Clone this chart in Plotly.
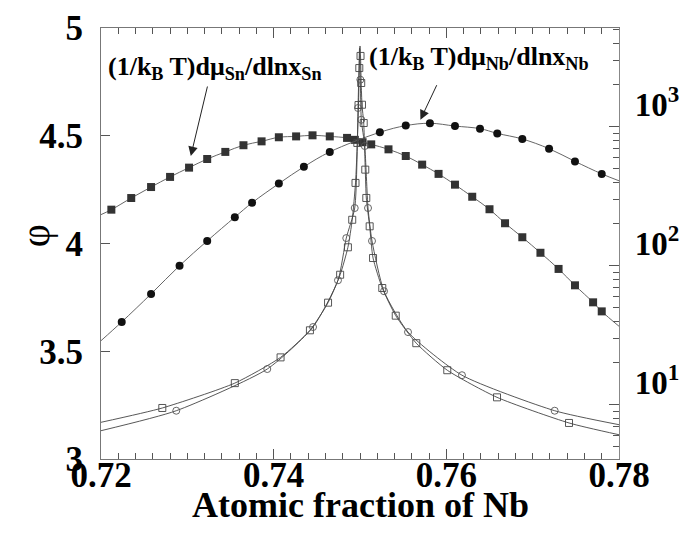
import plotly.graph_objects as go

# Atomic fraction of Nb / values

# filled squares: phi for Sn (left axis)
sn_x = [0.7212, 0.7235, 0.7258, 0.7280, 0.7302, 0.7323, 0.7344, 0.7365, 0.7386, 0.7406,
        0.7426, 0.7445, 0.7465, 0.7485, 0.7494, 0.7503, 0.7513, 0.7533, 0.7553, 0.7572,
        0.7591, 0.7610, 0.7630, 0.7650, 0.7668, 0.7688, 0.7709, 0.7730, 0.7749, 0.7770, 0.7780]
sn_phi = [4.157, 4.211, 4.262, 4.309, 4.352, 4.392, 4.425, 4.456, 4.474, 4.493,
          4.497, 4.502, 4.497, 4.490, 4.481, 4.470, 4.460, 4.437, 4.406, 4.366,
          4.323, 4.273, 4.217, 4.159, 4.094, 4.029, 3.957, 3.882, 3.806, 3.727, 3.685]
sn_phi_ends = [4.134, 3.616]   # curve at x = 0.72 and x = 0.78

# filled circles: phi for Nb (left axis)
nb_x = [0.7224, 0.7258, 0.7291, 0.7323, 0.7355, 0.7375, 0.7406, 0.7435, 0.7465, 0.7523,
        0.7553, 0.7581, 0.7610, 0.7639, 0.7659, 0.7688, 0.7719, 0.7749, 0.7780]
nb_phi = [3.636, 3.766, 3.897, 4.012, 4.122, 4.189, 4.278, 4.356, 4.425, 4.516,
          4.547, 4.558, 4.545, 4.533, 4.511, 4.485, 4.440, 4.381, 4.323]
nb_phi_ends = [3.549, 4.291]

# open squares: (1/kBT) dmu_Sn / dln x_Sn (right log axis)
tf_sn_x = [0.7271, 0.7355, 0.7408, 0.7442, 0.7463, 0.7477, 0.7486, 0.7491, 0.74948, 0.74969,
           0.74983, 0.74992, 0.75006, 0.75014, 0.75023, 0.75043, 0.75061, 0.75073, 0.75112, 0.75151,
           0.75258, 0.75414, 0.75652, 0.76011, 0.76587, 0.77421]
tf_sn = [9.47, 14.3, 21.9, 34.3, 54.2, 86.1, 135.6, 214, 394, 764,
         1432, 2642, 3228, 2062, 1439, 1063, 491, 307, 192, 113.6,
         69.1, 43.7, 27.7, 17.7, 11.3, 7.39]
tf_sn_peak = (0.75000, 3807)
tf_sn_ends = [7.47, 6.08]

# open circles: (1/kBT) dmu_Nb / dln x_Nb (right log axis)
tf_nb_x = [0.72872, 0.73926, 0.74456, 0.74745, 0.74841, 0.74939, 0.74977, 0.75004, 0.75015, 0.75055,
           0.75093, 0.75139, 0.75278, 0.75556, 0.76181, 0.77255]
tf_nb = [9.05, 18.06, 36.2, 78.5, 158, 260, 1363, 2178, 1122, 726,
         260, 150.7, 65.5, 33.3, 16.3, 9.05]
tf_nb_peak = (0.74995, 3681)
tf_nb_ends = [6.50, 7.18]

x_ticks = [0.72, 0.74, 0.76, 0.78]
phi_ticks = [3, 3.5, 4, 4.5, 5]
log_ticks = [10, 100, 1000]

x_lo, x_hi = 0.72, 0.78

FONT = "Liberation Serif"
fig = go.Figure()


def with_ends(xs, ys, ends, peak=None):
    px, py = list(xs), list(ys)
    if peak is not None:
        i = next(k for k, v in enumerate(px) if v > peak[0])
        px.insert(i, peak[0])
        py.insert(i, peak[1])
    return [x_lo] + px + [x_hi], [ends[0]] + py + [ends[1]]


def b(s):
    return "<b>" + s + "</b>"


# phi curves
lx, ly = with_ends(sn_x, sn_phi, sn_phi_ends)
fig.add_trace(go.Scatter(x=lx, y=ly, mode="lines", line=dict(color="#666", width=1, shape="spline"),
                         showlegend=False, hoverinfo="skip"))
fig.add_trace(go.Scatter(x=sn_x, y=sn_phi, mode="markers",
                         marker=dict(symbol="square", size=8, color="#333"), showlegend=False))
lx, ly = with_ends(nb_x, nb_phi, nb_phi_ends)
fig.add_trace(go.Scatter(x=lx, y=ly, mode="lines", line=dict(color="#666", width=1, shape="spline"),
                         showlegend=False, hoverinfo="skip"))
fig.add_trace(go.Scatter(x=nb_x, y=nb_phi, mode="markers",
                         marker=dict(symbol="circle", size=8, color="#111"), showlegend=False))

# thermodynamic factors on right axis
lx, ly = with_ends(tf_sn_x, tf_sn, tf_sn_ends, tf_sn_peak)
fig.add_trace(go.Scatter(x=lx, y=ly, yaxis="y2", mode="lines",
                         line=dict(color="#444", width=0.9, shape="spline", smoothing=0.6),
                         showlegend=False, hoverinfo="skip"))
fig.add_trace(go.Scatter(x=tf_sn_x, y=tf_sn, yaxis="y2", mode="markers",
                         marker=dict(symbol="square-open", size=7, color="#444", line=dict(width=0.9)),
                         showlegend=False))
lx, ly = with_ends(tf_nb_x, tf_nb, tf_nb_ends, tf_nb_peak)
fig.add_trace(go.Scatter(x=lx, y=ly, yaxis="y2", mode="lines",
                         line=dict(color="#444", width=0.9, shape="spline", smoothing=0.6),
                         showlegend=False, hoverinfo="skip"))
fig.add_trace(go.Scatter(x=tf_nb_x, y=tf_nb, yaxis="y2", mode="markers",
                         marker=dict(symbol="circle-open", size=7, color="#555", line=dict(width=0.9)),
                         showlegend=False))

# annotation texts and arrows
lab_sn = b("(1/k<sub>B</sub> T)dμ<sub>Sn</sub>/dlnx<sub>Sn</sub>")
lab_nb = b("(1/k<sub>B</sub> T)dμ<sub>Nb</sub>/dlnx<sub>Nb</sub>")
fig.add_annotation(x=0.7206, y=0.949, xref="x", yref="paper", text=lab_sn, showarrow=False,
                   xanchor="left", yanchor="top", font=dict(family=FONT, size=26, color="black"))
fig.add_annotation(x=0.7508, y=0.972, xref="x", yref="paper", text=lab_nb, showarrow=False,
                   xanchor="left", yanchor="top", font=dict(family=FONT, size=26, color="black"))
fig.add_annotation(x=0.7304, y=4.406, xref="x", yref="y", text="", showarrow=True,
                   ax=17, ay=-71, arrowhead=2, arrowsize=1.9, arrowwidth=1, arrowcolor="#222")
fig.add_annotation(x=0.7570, y=4.5745, xref="x", yref="y", text="", showarrow=True,
                   ax=17, ay=-36, arrowhead=2, arrowsize=1.9, arrowwidth=1, arrowcolor="#222")

# phi label and x title
fig.add_annotation(x=-0.1274, y=0.517, xref="paper", yref="paper", text="φ", showarrow=False,
                   xanchor="center", yanchor="middle", textangle=-90,
                   font=dict(family=FONT, size=40, color="black"))
fig.add_annotation(x=0.5, y=-0.107, xref="paper", yref="paper", text=b("Atomic fraction of Nb"),
                   showarrow=False, xanchor="center", yanchor="middle",
                   font=dict(family=FONT, size=36, color="black"))

tick_font = dict(family=FONT, size=35, color="black")
minor_log = [m * 10 ** k for k in range(0, 4) for m in range(2, 10)]

fig.update_layout(
    width=694, height=535,
    margin=dict(l=93, r=83, t=20, b=84, autoexpand=False),
    paper_bgcolor="white", plot_bgcolor="white",
    xaxis=dict(range=[x_lo, x_hi], tickvals=x_ticks, ticktext=[b("%.2f" % v) for v in x_ticks],
               ticks="inside", ticklen=10, tickcolor="#555", showline=True, linecolor="#777", linewidth=1.2,
               mirror="ticks", showgrid=False, zeroline=False, tickfont=tick_font, ticklabelstandoff=-15,
               automargin=False,
               minor=dict(dtick=0.002, tick0=0.72, ticks="inside", ticklen=6, tickcolor="#555")),
    yaxis=dict(range=[3, 5], tickvals=phi_ticks, ticktext=[b("%g" % v) for v in phi_ticks],
               ticks="inside", ticklen=9, tickcolor="#555", automargin=False,
               showline=True, linecolor="#777", linewidth=1.2, showgrid=False, zeroline=False,
               tickfont=tick_font, ticklabelstandoff=10),
    yaxis2=dict(type="log", overlaying="y", side="right", range=[0.6094, 3.710],
                tickvals=log_ticks, ticktext=[b("10<sup>%d</sup>" % (i + 1)) for i in range(len(log_ticks))],
                ticks="inside", ticklen=10, tickcolor="#555", showline=True, linecolor="#888", linewidth=1.2,
                showgrid=False, zeroline=False, ticklabelshift=-22, ticklabelstandoff=8, automargin=False,
                tickfont=dict(family=FONT, size=33, color="black"),
                minor=dict(tickvals=minor_log, ticks="inside", ticklen=6, tickcolor="#555")),
)

fig.write_html("out.html")
